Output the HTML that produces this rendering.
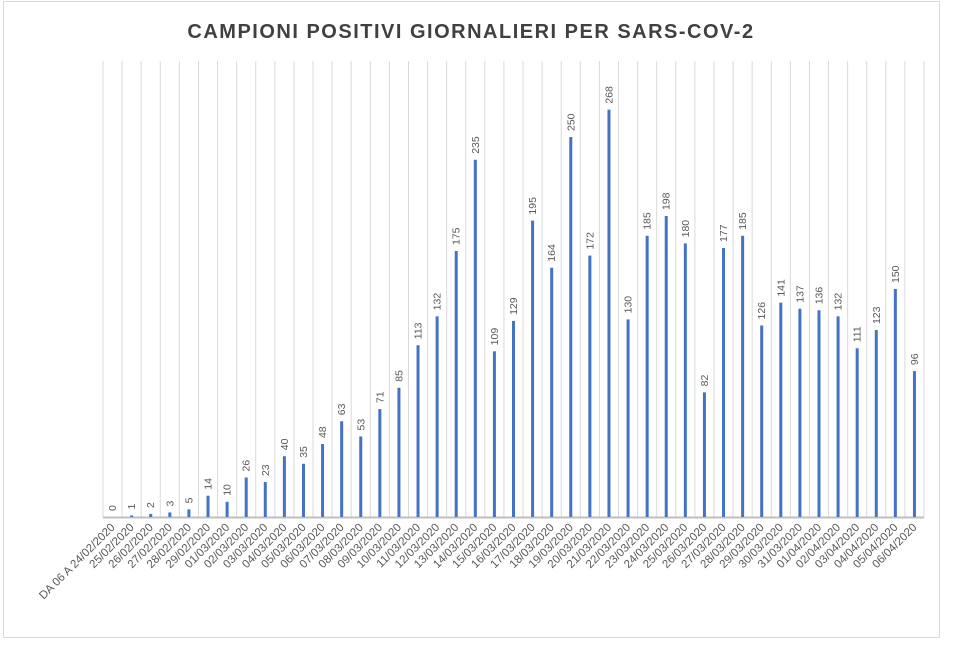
<!DOCTYPE html>
<html><head><meta charset="utf-8"><style>
body{margin:0;background:#fff;}
svg{display:block;font-family:"Liberation Sans",sans-serif;}
</style></head><body>
<svg id="chart" width="976" height="654">
<rect x="3.5" y="1.5" width="936" height="636" fill="#fff" stroke="#d9d9d9"/>
<text x="471" y="38" text-anchor="middle" font-size="20" font-weight="bold" fill="#404040" letter-spacing="1.5">CAMPIONI POSITIVI GIORNALIERI PER SARS-COV-2</text>
<g id="grid"></g><g id="bars"></g><g id="vals"></g><g id="cats"></g>
</svg>
<script>
const categories=["DA 06 A 24/02/2020","25/02/2020","26/02/2020","27/02/2020","28/02/2020","29/02/2020","01/03/2020","02/03/2020","03/03/2020","04/03/2020","05/03/2020","06/03/2020","07/03/2020","08/03/2020","09/03/2020","10/03/2020","11/03/2020","12/03/2020","13/03/2020","14/03/2020","15/03/2020","16/03/2020","17/03/2020","18/03/2020","19/03/2020","20/03/2020","21/03/2020","22/03/2020","23/03/2020","24/03/2020","25/03/2020","26/03/2020","27/03/2020","28/03/2020","29/03/2020","30/03/2020","31/03/2020","01/04/2020","02/04/2020","03/04/2020","04/04/2020","05/04/2020","06/04/2020"];
const values=[0,1,2,3,5,14,10,26,23,40,35,48,63,53,71,85,113,132,175,235,109,129,195,164,250,172,268,130,185,198,180,82,177,185,126,141,137,136,132,111,123,150,96];
const yMax=300;
const NS="http://www.w3.org/2000/svg";
const L=103,R=924,T=61,B=517;
const bw=(R-L)/categories.length;
const x=i=>L+bw*(i+0.5);
const y=v=>B-(v/yMax)*(B-T);
function mk(t,a,p){const e=document.createElementNS(NS,t);for(const k in a)e.setAttribute(k,a[k]);document.getElementById(p).appendChild(e);return e;}
for(let i=0;i<=categories.length;i++){
 const g=mk("line",{x1:L+bw*i,x2:L+bw*i,y1:T,y2:B,stroke:"#d9d9d9","stroke-width":1},"grid");
 
 
}
const ax=mk("line",{x1:L,x2:R,y1:B+0.5,y2:B+0.5,stroke:"#bfbfbf","stroke-width":2},"grid");


values.forEach((v,i)=>{
 const b=mk("rect",{x:x(i)-1.5,y:y(v),width:3,height:B-y(v),fill:"#4472c4"},"bars");
 
 
 const t=mk("text",{transform:`translate(${x(i)+3.5},${y(v)-6}) rotate(-90)`,"font-size":10.5,fill:"#595959"},"vals");
 t.textContent=v;
 
 
 const c=mk("text",{transform:`translate(${x(i)+3},${B+11}) rotate(-45)`,"font-size":11.5,fill:"#595959","text-anchor":"end"},"cats");
 c.textContent=categories[i];
 
 
});
</script>
</body></html>
